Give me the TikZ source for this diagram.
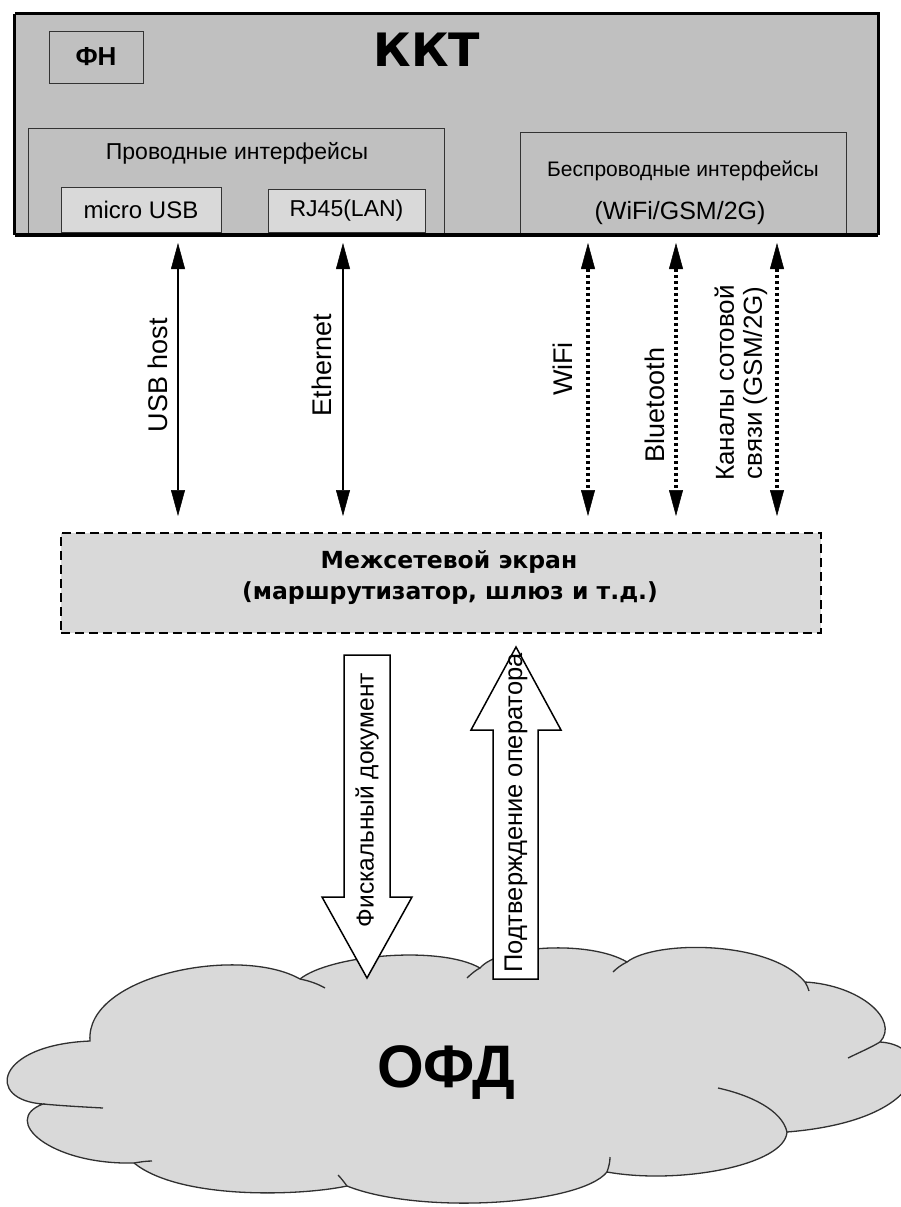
\documentclass[tikz,border=0pt]{standalone}
\usepackage{fontspec}
\setmainfont{Liberation Sans}
\newfontfamily\widefont{DejaVu Sans}
\usetikzlibrary{arrows.meta}
\definecolor{kktgray}{HTML}{C0C0C0}
\definecolor{lightg}{HTML}{D9D9D9}
\definecolor{cloudline}{HTML}{303030}
\tikzset{
  fs/.style={font=\fontsize{#1}{#1}\selectfont},
  inbox/.style={draw=black!80, line width=1pt, fill=kktgray, inner sep=0pt},
  portbox/.style={draw=black!80, line width=1pt, fill=lightg, inner sep=0pt},
  lbl/.style={inner sep=0pt, text=black},
  tip/.style={{Triangle[length=26pt,width=14pt,line width=0.5pt]}-{Triangle[length=26pt,width=14pt,line width=0.5pt]}},
  wired/.style={tip, line width=1.3pt},
  wireless/.style={tip, line width=4pt, dash pattern=on 3pt off 3pt},
  bigarrow/.style={draw=black, line width=1.5pt, fill=white, line join=miter},
  curl/.style={draw=cloudline, line width=1.3pt},
}
\begin{document}
\begin{tikzpicture}[x=1pt,y=-1pt]
\useasboundingbox (0,0) rectangle (901,1207);
\clip (0,0) rectangle (901,1207);

% ---------- KKT ----------
\node[fill=kktgray, minimum width=863pt, minimum height=221pt, inner sep=0pt] (kkt) at (446.5,124.5) {};
\node[inbox, minimum width=94pt, minimum height=51pt] (fn) at (96,57.5) {};
\node[lbl, fs=26] (fnt) at (96,57) {\bfseries ФН};
\node[lbl, fs=46] (kktt) at (427,50) {\widefont\bfseries ККТ};

\node[inbox, minimum width=416pt, minimum height=107pt] (wiredbox) at (236,181.5) {};
\node[lbl, fs=23] (wiredt) at (237,153) {Проводные интерфейсы};
\node[portbox, minimum width=160pt, minimum height=45pt] (usbp) at (141,209.5) {};
\node[lbl, fs=24] (usbt) at (141,210) {micro USB};
\node[portbox, minimum width=157pt, minimum height=43pt] (rj) at (346.5,210.5) {};
\node[lbl, fs=23] (rjt) at (346.5,211) {RJ45(LAN)};

\node[inbox, minimum width=326pt, minimum height=103pt] (wlbox) at (683,183.5) {};
\node[lbl, fs=21] (wlt1) at (683,171) {Беспроводные интерфейсы};
\node[lbl, fs=25] (wlt2) at (680,213) {(WiFi/GSM/2G)};

\draw[line width=3pt] (kkt.north west) -- (kkt.north east) -- (kkt.south east);
\draw[line width=3pt] (kkt.north west) -- (kkt.south west);
\draw[line width=4pt] (kkt.south west) -- (kkt.south east);

% ---------- Firewall ----------
\node[fill=lightg, draw=black, line width=2pt, dash pattern=on 9pt off 5pt,
      minimum width=760pt, minimum height=100pt, inner sep=0pt] (fw) at (441,583) {};
\node[lbl, fs=23.5] (fw1) at (449,562) {\widefont\bfseries Межсетевой экран};
\node[lbl, fs=23.5] (fw2) at (450,593) {\widefont\bfseries (маршрутизатор, шлюз и т.д.)};

% ---------- connectors ----------
\coordinate (a1) at (178,243); \coordinate (b1) at (178,516);
\coordinate (a2) at (343,243); \coordinate (b2) at (343,516);
\coordinate (a3) at (588,243); \coordinate (b3) at (588,516);
\coordinate (a4) at (676,243); \coordinate (b4) at (676,516);
\coordinate (a5) at (777,243); \coordinate (b5) at (777,516);
\draw[wired] (a1) -- (b1);
\draw[wired] (a2) -- (b2);
\draw[wireless] (a3) -- (b3);
\draw[wireless] (a4) -- (b4);
\draw[wireless] (a5) -- (b5);

\node[lbl, fs=27, rotate=90] (l1) at (158,375) {USB host};
\node[lbl, fs=27, rotate=90] (l2) at (322,365) {Ethernet};
\node[lbl, fs=27, rotate=90] (l3) at (563,369) {WiFi};
\node[lbl, fs=27, rotate=90] (l4) at (655,405) {Bluetooth};
\node[lbl, fs=26, rotate=90, align=center] (l5) at (741,383) {Каналы сотовой\\[2pt]связи (GSM/2G)};

% ---------- Cloud ----------
\coordinate (J1) at (90,1041);
\coordinate (J2) at (300,979);
\coordinate (J3) at (480,968);
\coordinate (J4) at (627,962);
\coordinate (J5) at (805,982);
\coordinate (J6) at (880,1042);
\coordinate (J7) at (787,1132);
\coordinate (J8) at (607,1172);
\coordinate (J9) at (347,1186);
\coordinate (J10) at (134,1163);
\coordinate (J11) at (43,1104);
\path[fill=lightg, draw=cloudline, line width=1.3pt]
  (J1) .. controls (85,975) and (240,945) .. (J2)
       .. controls (330,955) and (440,945) .. (J3)
       .. controls (500,945) and (590,940) .. (J4)
       .. controls (655,940) and (770,940) .. (J5)
       .. controls (860,985) and (900,1020) .. (J6)
       .. controls (935,1045) and (935,1120) .. (J7)
       .. controls (785,1165) and (680,1185) .. (J8)
       .. controls (580,1205) and (420,1215) .. (J9)
       .. controls (300,1196) and (180,1200) .. (J10)
       .. controls (50,1165) and (0,1120) .. (J11)
       .. controls (-15,1100) and (-5,1045) .. (J1) -- cycle;
\coordinate (c2) at (325,988);
\coordinate (c3) at (467,978);
\coordinate (c4) at (613,972);
\coordinate (c5) at (809,991);
\coordinate (c6) at (848,1058);
\coordinate (c7) at (718,1088);
\coordinate (c8) at (610,1157);
\coordinate (c9) at (338,1175);
\coordinate (c10) at (152,1161);
\coordinate (c11) at (103,1108);
\draw[curl] (J2) .. controls (310,981) and (318,984) .. (c2);
\draw[curl] (J3) .. controls (476,970) and (471,974) .. (c3);
\draw[curl] (J4) .. controls (621,965) and (617,968) .. (c4);
\draw[curl] (J5) .. controls (807,985) and (808,988) .. (c5);
\draw[curl] (J6) .. controls (870,1048) and (858,1053) .. (c6);
\draw[curl] (c7) .. controls (750,1095) and (782,1110) .. (J7);
\draw[curl] (J8) .. controls (609,1166) and (610,1162) .. (c8);
\draw[curl] (J9) .. controls (344,1182) and (341,1178) .. (c9);
\draw[curl] (J10) .. controls (140,1162) and (146,1161) .. (c10);
\draw[curl] (J11) .. controls (65,1106) and (85,1107) .. (c11);
\node[lbl, fs=60] (ofd) at (446,1073) {\bfseries ОФД};

% ---------- big arrows ----------
\path[bigarrow] (344,655) -- (390,655) -- (390,897) -- (412,897) -- (367,978)
   -- (322,897) -- (344,897) -- cycle;
\path[bigarrow] (516,647) -- (561,730) -- (538,730) -- (538,979) -- (493,979)
   -- (493,730) -- (471,730) -- cycle;
\node[lbl, fs=24.5, rotate=90] (fd) at (367,800) {Фискальный документ};
\node[lbl, fs=25.5, rotate=90] (po) at (516,813) {Подтверждение оператора};
\end{tikzpicture}
\end{document}
